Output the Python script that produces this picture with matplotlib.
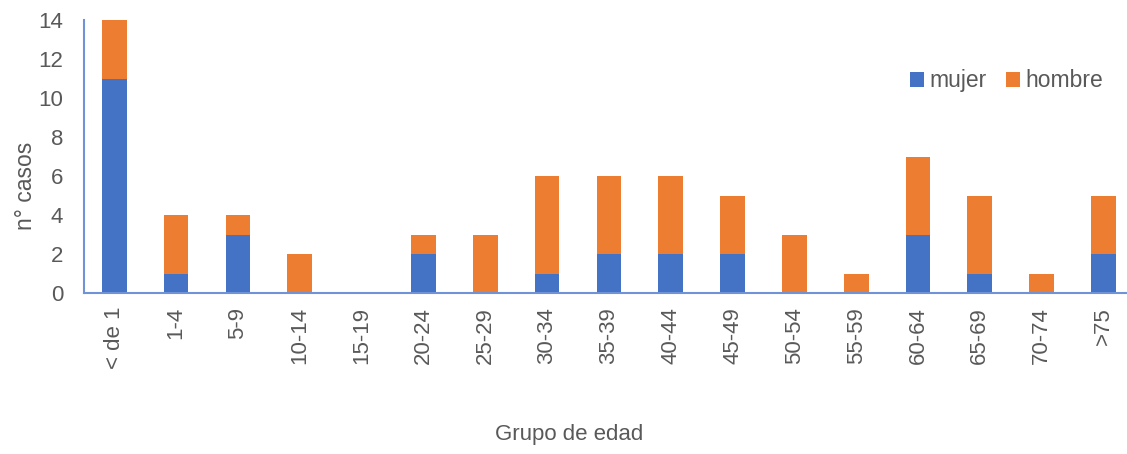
import numpy as np
import matplotlib.pyplot as plt

plt.rcParams['font.family'] = ['Liberation Sans', 'DejaVu Sans']

grupos = ['< de 1', '1-4', '5-9', '10-14', '15-19', '20-24', '25-29', '30-34',
          '35-39', '40-44', '45-49', '50-54', '55-59', '60-64', '65-69', '70-74', '>75']
mujer = [11, 1, 3, 0, 0, 2, 0, 1, 2, 2, 2, 0, 0, 3, 1, 0, 2]
hombre = [3, 3, 1, 2, 0, 1, 3, 5, 4, 4, 3, 3, 1, 4, 4, 1, 3]

c_mujer = '#4472C4'
c_hombre = '#ED7D31'
gris = '#595959'

fig = plt.figure(figsize=(11.27, 4.54), dpi=100)
ax = fig.add_axes([0.0745, 0.3546, 0.9255, 0.6013])

x = np.arange(len(grupos))
w = 0.40
ax.bar(x, mujer, w, color=c_mujer, label='mujer', zorder=2)
ax.bar(x, hombre, w, bottom=mujer, color=c_hombre, label='hombre', zorder=2)

ax.set_xlim(-0.49, 16.38)
ax.set_ylim(0, 14)
ax.set_yticks(range(0, 15, 2))
ax.set_xticks(x)
ax.set_xticklabels(grupos, rotation=90, fontsize=16, color=gris)
ax.tick_params(axis='y', labelsize=16, labelcolor=gris, length=0, pad=15)
ax.tick_params(axis='x', length=0, pad=10)

for s in ['top', 'right']:
    ax.spines[s].set_visible(False)
for s in ['left', 'bottom']:
    ax.spines[s].set_color('#6F93D6')
    ax.spines[s].set_linewidth(1.5)

ax.set_ylabel('n° casos', fontsize=16.5, color=gris)
ax.yaxis.set_label_coords(-0.045, 0.392)
fig.text(0.505, 0.03, 'Grupo de edad', fontsize=16, color=gris, ha='center')

ax.legend(loc='upper left', bbox_to_anchor=(0.772, 0.895), ncol=2, frameon=False,
          fontsize=16.5, labelcolor=gris, handlelength=0.6, handleheight=0.6,
          handletextpad=0.25, columnspacing=0.85)

fig.savefig('out.png', dpi=100)
